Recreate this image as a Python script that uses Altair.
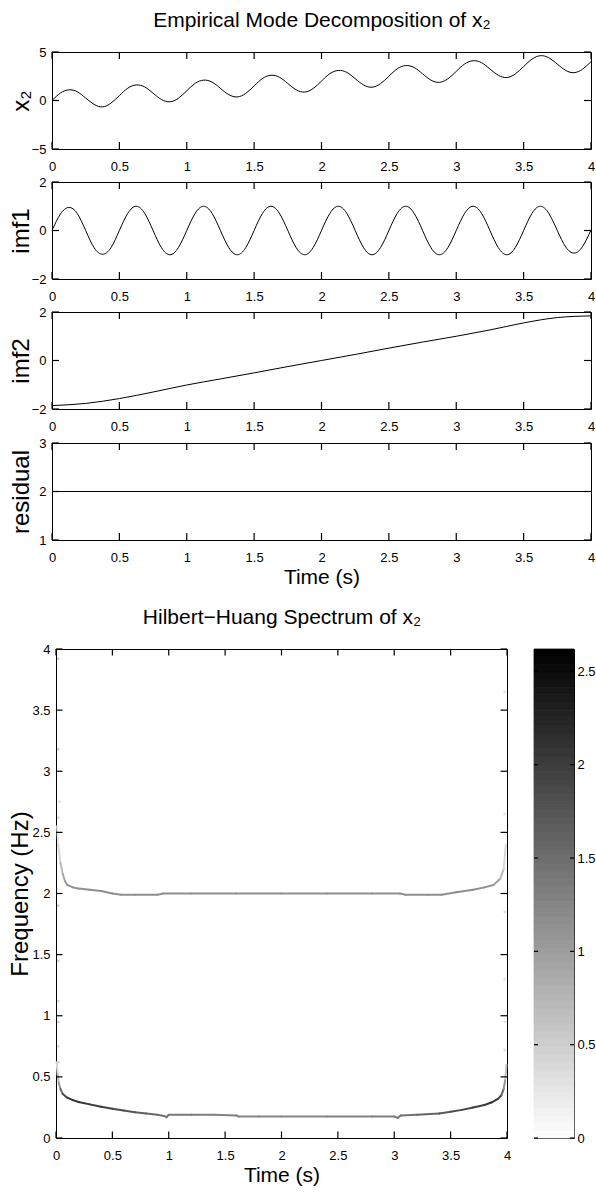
import altair as alt
import numpy as np
import pandas as pd

# ---------------------------------------------------------------- data
x_ticks = [0, 0.5, 1, 1.5, 2, 2.5, 3, 3.5, 4]
freq_ticks = [0, 0.5, 1, 1.5, 2, 2.5, 3, 3.5, 4]
cbar_ticks = [0, 0.5, 1, 1.5, 2, 2.5]
x2_ticks = [-5, 0, 5]
imf_ticks = [-2, 0, 2]
res_ticks = [1, 2, 3]

# sample times (s) for the oscillating curves
emd_time = [round(0.0625 * k, 4) for k in range(65)]

x2_vals = [0.00, 0.77, 1.10, 0.90, 0.25, -0.40, -0.66, -0.27,
           0.50, 1.27, 1.60, 1.40, 0.75, 0.10, -0.13, 0.23,
           1.00, 1.77, 2.10, 1.90, 1.25, 0.60, 0.37, 0.73,
           1.50, 2.27, 2.60, 2.40, 1.75, 1.10, 0.87, 1.23,
           2.00, 2.77, 3.10, 2.90, 2.25, 1.60, 1.37, 1.73,
           2.50, 3.27, 3.60, 3.40, 2.75, 2.10, 1.87, 2.23,
           3.00, 3.77, 4.10, 3.90, 3.25, 2.60, 2.37, 2.73,
           3.50, 4.27, 4.62, 4.40, 3.75, 3.10, 2.87, 3.23,
           4.00]

imf1_vals = [0.00, 0.68, 0.95, 0.70, 0.00, -0.71, -0.98, -0.71,
             0.00, 0.71, 1.00, 0.71, 0.00, -0.71, -1.00, -0.71,
             0.00, 0.71, 1.00, 0.71, 0.00, -0.71, -1.00, -0.71,
             0.00, 0.71, 1.00, 0.71, 0.00, -0.71, -1.00, -0.71,
             0.00, 0.71, 1.00, 0.71, 0.00, -0.71, -1.00, -0.71,
             0.00, 0.71, 1.00, 0.71, 0.00, -0.71, -1.00, -0.71,
             0.00, 0.71, 1.00, 0.71, 0.00, -0.71, -1.00, -0.71,
             0.00, 0.71, 1.00, 0.70, 0.00, -0.68, -0.93, -0.66,
             0.02]

imf2_time = [0, 0.25, 0.5, 0.75, 1, 1.25, 1.5, 1.75, 2, 2.25, 2.5, 2.75, 3, 3.25, 3.5, 3.75, 4]
imf2_vals = [-1.86, -1.77, -1.57, -1.30, -1.01, -0.76, -0.51, -0.25, 0.00,
             0.25, 0.51, 0.76, 1.00, 1.26, 1.55, 1.77, 1.84]

res_time = [0, 4]
res_vals = [2, 2]

# Hilbert-Huang spectrum: instantaneous frequency tracks with amplitude
upper_t = [0.01, 0.02, 0.04, 0.06, 0.08, 0.10, 0.15, 0.20, 0.30, 0.40, 0.50, 0.58,
           0.70, 0.90, 0.95, 1.20, 1.60, 2.00, 2.40, 2.80, 3.05, 3.10, 3.30, 3.42,
           3.55, 3.70, 3.80, 3.88, 3.94, 3.97, 3.99]
upper_f = [2.55, 2.40, 2.25, 2.16, 2.10, 2.07, 2.05, 2.04, 2.03, 2.02, 2.00, 1.99,
           1.99, 1.99, 2.00, 2.00, 2.00, 2.00, 2.00, 2.00, 2.00, 1.99, 1.99, 1.99,
           2.01, 2.03, 2.05, 2.07, 2.12, 2.20, 2.40]
upper_a = [0.15, 0.30, 0.55, 0.80, 1.00, 1.10, 1.15, 1.15, 1.15, 1.15, 1.15, 1.15,
           1.15, 1.15, 1.15, 1.15, 1.15, 1.15, 1.15, 1.15, 1.15, 1.15, 1.15, 1.15,
           1.15, 1.15, 1.15, 1.10, 0.85, 0.55, 0.25]

lower_t = [0.005, 0.015, 0.025, 0.04, 0.06, 0.10, 0.15, 0.20, 0.30, 0.40, 0.50, 0.60,
           0.70, 0.80, 0.90, 0.96, 0.98, 1.00, 1.20, 1.40, 1.60, 1.62, 1.80, 2.00,
           2.40, 2.80, 3.00, 3.03, 3.06, 3.20, 3.40, 3.50, 3.60, 3.70, 3.80, 3.86,
           3.92, 3.95, 3.97, 3.985, 3.995]
lower_f = [0.62, 0.52, 0.45, 0.40, 0.36, 0.33, 0.31, 0.295, 0.275, 0.255, 0.24, 0.225,
           0.21, 0.20, 0.19, 0.18, 0.17, 0.19, 0.19, 0.19, 0.185, 0.175, 0.175, 0.175,
           0.175, 0.175, 0.175, 0.165, 0.185, 0.19, 0.20, 0.215, 0.23, 0.25, 0.27, 0.29,
           0.32, 0.35, 0.40, 0.48, 0.60]
lower_a = [0.30, 0.55, 0.90, 1.30, 1.70, 2.00, 2.10, 2.10, 2.05, 2.00, 1.90, 1.80,
           1.70, 1.60, 1.50, 1.45, 1.45, 1.40, 1.35, 1.30, 1.30, 1.25, 1.25, 1.25,
           1.25, 1.30, 1.35, 1.40, 1.40, 1.50, 1.65, 1.75, 1.85, 1.95, 2.00, 2.05,
           2.05, 1.80, 1.40, 0.85, 0.40]

speck_t = [0.02, 0.02, 0.02, 0.02, 0.02, 0.02, 0.02, 0.02, 0.02, 0.03,
           3.98, 3.98, 3.98, 3.98, 3.98, 3.98]
speck_f = [3.92, 3.18, 2.62, 1.90, 1.45, 1.12, 0.95, 0.75, 0.62, 2.75,
           3.65, 2.65, 1.85, 1.30, 0.95, 0.72]
speck_a = [0.50, 0.45, 0.40, 0.50, 0.50, 0.35, 0.40, 0.35, 0.50, 0.30,
           0.30, 0.30, 0.35, 0.30, 0.30, 0.35]

cbar_max = 2.62
cbar_levels = 64

# ---------------------------------------------------------------- layout (px)
WT, HT = 596, 1194
FONT = "Liberation Sans"
LABEL_FS = 13
TITLE_FS = 21
YTITLE_FS = 24

PL, PR, PH = 52, 591, 97
P_TOPS = [52, 182, 312, 443]
SL, SR, ST, SB = 56, 507, 649, 1138
CL, CR = 534, 574


def sx(dom, x0, x1):
    return alt.Scale(domain=dom, range=[x0, x1], nice=False, zero=False)


def sy(dom, top, bot):
    return alt.Scale(domain=dom, range=[bot, top], nice=False, zero=False)


def ax(orient, line, **kw):
    if orient == "bottom":
        off = line - HT
    elif orient == "top":
        off = -line
    elif orient == "left":
        off = -line
    else:
        off = line - WT
    base = dict(orient=orient, offset=off, grid=False, domain=False, ticks=False,
                labels=False, title=None, domainColor="black", domainWidth=1)
    base.update(kw)
    return alt.Axis(**base)


def frame_layers(xs, ys, xdom, ydom, xt, yt, left, right, top, bot, size,
                 do_x=True):
    """Box edges (axis domains) plus inward-pointing tick marks (rules)."""
    out = []
    dummy = pd.DataFrame({"u": [xdom[0], xdom[1]], "v": [ydom[0], ydom[1]]})
    out.append(alt.Chart(dummy).mark_point(opacity=0).encode(
        x=alt.X("u:Q", scale=xs, axis=ax("top", bot, domain=True)),
        y=alt.Y("v:Q", scale=ys, axis=ax("right", left, domain=True))))
    out.append(alt.Chart(dummy).mark_point(opacity=0).encode(
        x=alt.X("u:Q", scale=xs, axis=ax("bottom", top, domain=True)),
        y=alt.Y("v:Q", scale=ys, axis=ax("left", right, domain=True))))
    # tick length expressed in data units of each scale
    ly = size * (ydom[1] - ydom[0]) / (bot - top)
    lx = size * (xdom[1] - xdom[0]) / (right - left)
    rows = []
    if do_x:
        for u in xt:
            rows.append({"u": u, "u2": u, "v": ydom[0], "v2": ydom[0] + ly})
            rows.append({"u": u, "u2": u, "v": ydom[1], "v2": ydom[1] - ly})
    for v in yt:
        rows.append({"u": xdom[0], "u2": xdom[0] + lx, "v": v, "v2": v})
        rows.append({"u": xdom[1], "u2": xdom[1] - lx, "v": v, "v2": v})
    tdf = pd.DataFrame(rows)
    out.append(alt.Chart(tdf).mark_rule(color="black", strokeWidth=1.2, opacity=1).encode(
        x=alt.X("u:Q", scale=xs, axis=None), x2="u2:Q",
        y=alt.Y("v:Q", scale=ys, axis=None), y2="v2:Q"))
    return out


def title_layer(xs, ys, xdom, ydom, top, text):
    dummy = pd.DataFrame({"u": [xdom[0]], "v": [ydom[0]]})
    return alt.Chart(dummy).mark_point(opacity=0).encode(
        x=alt.X("u:Q", scale=xs, axis=ax("top", top, title=text, titleY=-26,
                                         titleBaseline="alphabetic",
                                         titleFontSize=TITLE_FS)),
        y=alt.Y("v:Q", scale=ys, axis=None))


layers = []

panel_specs = [
    (emd_time, x2_vals, [-5, 5], x2_ticks, "x₂", "natural"),
    (emd_time, imf1_vals, [-2, 2], imf_ticks, "imf1", "natural"),
    (imf2_time, imf2_vals, [-2, 2], imf_ticks, "imf2", "monotone"),
    (res_time, res_vals, [1, 3], res_ticks, "residual", "linear"),
]

for i, (tt, vv, ydom, yt, ytitle, interp) in enumerate(panel_specs):
    top = P_TOPS[i]
    bot = top + PH
    xdom = [0, 4]
    xs = sx(xdom, PL, PR)
    ys = sy(ydom, top, bot)
    df = pd.DataFrame({"t": tt, "v": vv})
    xkw = dict(labels=True, values=x_ticks, format="~g", labelFlush=False,
               labelOverlap=False, labelPadding=21, labelBaseline="alphabetic")
    if i == 3:
        xkw.update(title="Time (s)", titleY=43, titleBaseline="alphabetic",
                   titleFontSize=TITLE_FS)
    ykw = dict(labels=True, values=yt, format="~g", labelPadding=6,
               labelOverlap=False, title=ytitle, titleX=-24, titleAngle=270,
               titleBaseline="alphabetic", titleFontSize=YTITLE_FS)
    line = alt.Chart(df).mark_line(color="black", strokeWidth=1, interpolate=interp).encode(
        x=alt.X("t:Q", scale=xs, axis=ax("bottom", bot, **xkw)),
        y=alt.Y("v:Q", scale=ys, axis=ax("left", PL, **ykw)))
    layers.append(line)
    layers += frame_layers(xs, ys, xdom, ydom, x_ticks, yt, PL, PR, top, bot, 7)
    if i == 0:
        layers.append(title_layer(xs, ys, xdom, ydom, top,
                                  "Empirical Mode Decomposition of x₂"))

# ---- spectrum
cscale = alt.Scale(domain=[0, cbar_max], range=["#ffffff", "#000000"], interpolate="rgb")
sxdom, sydom = [0, 4], [0, 4]
xs = sx(sxdom, SL, SR)
ys = sy(sydom, ST, SB)

segs = []
for tl, fl, al in [(upper_t, upper_f, upper_a), (lower_t, lower_f, lower_a)]:
    for j in range(len(tl) - 1):
        segs.append({"t": tl[j], "t2": tl[j + 1], "f": fl[j], "f2": fl[j + 1],
                     "a": (al[j] + al[j + 1]) / 2})
seg_df = pd.DataFrame(segs)

spec_x = ax("bottom", SB, labels=True, values=x_ticks, format="~g", labelFlush=False,
            labelOverlap=False, labelPadding=21, labelBaseline="alphabetic",
            title="Time (s)", titleY=43, titleBaseline="alphabetic", titleFontSize=TITLE_FS)
spec_y = ax("left", SL, labels=True, values=freq_ticks, format="~g", labelPadding=6,
            labelOverlap=False, title="Frequency (Hz)", titleX=-29, titleAngle=270,
            titleBaseline="alphabetic", titleFontSize=YTITLE_FS)

specks = pd.DataFrame({"t": speck_t, "f": speck_f, "a": speck_a})
layers.append(alt.Chart(specks).mark_square(size=6, opacity=1).encode(
    x=alt.X("t:Q", scale=xs, axis=None),
    y=alt.Y("f:Q", scale=ys, axis=None),
    color=alt.Color("a:Q", scale=cscale, legend=None)))
layers.append(alt.Chart(seg_df).mark_rule(strokeWidth=2.0, strokeCap="round").encode(
    x=alt.X("t:Q", scale=xs, axis=spec_x), x2="t2:Q",
    y=alt.Y("f:Q", scale=ys, axis=spec_y), y2="f2:Q",
    color=alt.Color("a:Q", scale=cscale, legend=None)))
layers += frame_layers(xs, ys, sxdom, sydom, x_ticks, freq_ticks, SL, SR, ST, SB, 6.5)
layers.append(title_layer(xs, ys, sxdom, sydom, ST, "Hilbert−Huang Spectrum of x₂"))

# ---- colour bar
step = cbar_max / cbar_levels
cb_df = pd.DataFrame({"lo": [k * step for k in range(cbar_levels)],
                      "hi": [(k + 1) * step for k in range(cbar_levels)],
                      "mid": [(k + 0.5) * step for k in range(cbar_levels)],
                      "c0": 0, "c1": 1})
cxdom, cydom = [0, 1], [0, cbar_max]
cxs = sx(cxdom, CL, CR)
cys = sy(cydom, ST, SB)
layers.append(alt.Chart(cb_df).mark_rect(strokeWidth=0.8).encode(
    x=alt.X("c0:Q", scale=cxs, axis=None), x2="c1:Q",
    y=alt.Y("lo:Q", scale=cys, axis=ax("right", CR, labels=True, values=cbar_ticks,
                                        format="~g", labelPadding=3, labelOverlap=False)),
    y2="hi:Q",
    color=alt.Color("mid:Q", scale=cscale, legend=None),
    stroke=alt.Stroke("mid:Q", scale=cscale, legend=None)))
layers += frame_layers(cxs, cys, cxdom, cydom, [], cbar_ticks, CL, CR, ST, SB, 4,
                       do_x=False)

chart = (alt.layer(*layers)
         .resolve_scale(x="independent", y="independent", color="independent",
                        stroke="independent")
         .resolve_axis(x="independent", y="independent")
         .properties(width=WT, height=HT, autosize=alt.AutoSizeParams(type="none"), padding=0)
         .configure_view(strokeWidth=0)
         .configure_axis(labelFont=FONT, titleFont=FONT, labelFontSize=LABEL_FS,
                         labelColor="black", titleColor="black", titleFontWeight="normal"))

chart.save("out.html", embed_options={"renderer": "svg", "actions": False})
